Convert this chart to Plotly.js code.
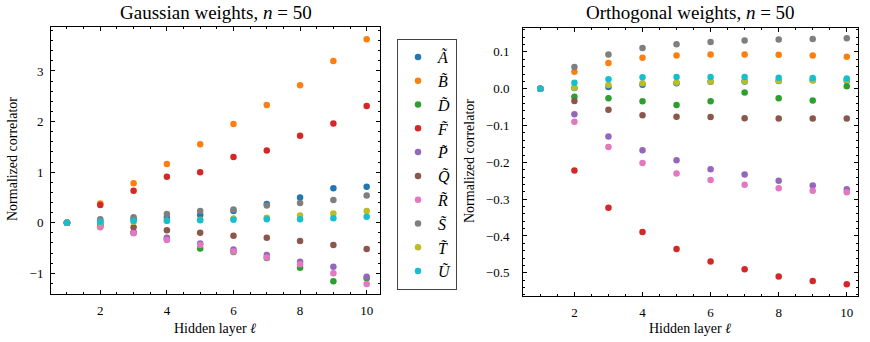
<!DOCTYPE html>
<html>
<head>
<meta charset="utf-8">
<script src="https://cdn.plot.ly/plotly-3.0.1.min.js"></script>
<style>body{margin:0;background:#fff}</style>
</head>
<body>
<div id="chart" style="width:870px;height:342px"></div>
<script>
var layers = [1, 2, 3, 4, 5, 6, 7, 8, 9, 10];

var names = ['<i>A&#771;</i>', '<i>B&#771;</i>', '<i>D&#771;</i>', '<i>F&#771;</i>', '<i>P&#771;</i>',
             '<i>Q&#771;</i>', '<i>R&#771;</i>', '<i>S&#771;</i>', '<i>T&#771;</i>', '<i>U&#771;</i>'];
var colors = ['#1f77b4', '#ff7f0e', '#2ca02c', '#d62728', '#9467bd',
              '#8c564b', '#e377c2', '#7f7f7f', '#bcbd22', '#17becf'];

// Gaussian weights
var gA = [0, 0.04, 0.07, 0.10, 0.15, 0.23, 0.37, 0.50, 0.68, 0.71];
var gB = [0, 0.38, 0.78, 1.16, 1.55, 1.95, 2.33, 2.72, 3.20, 3.63];
var gD = [0, -0.05, -0.20, -0.32, -0.51, -0.58, -0.70, -0.89, -1.16, -1.10];
var gF = [0, 0.35, 0.63, 0.91, 1.00, 1.30, 1.43, 1.72, 1.96, 2.31];
var gP = [0, -0.07, -0.19, -0.30, -0.41, -0.53, -0.64, -0.77, -0.87, -1.07];
var gQ = [0, -0.02, -0.09, -0.15, -0.20, -0.26, -0.30, -0.36, -0.44, -0.52];
var gR = [0, -0.09, -0.21, -0.34, -0.44, -0.57, -0.69, -0.82, -1.00, -1.21];
var gS = [0, 0.07, 0.11, 0.17, 0.23, 0.26, 0.34, 0.39, 0.45, 0.54];
var gT = [0, 0.00, 0.02, 0.04, 0.06, 0.085, 0.10, 0.14, 0.18, 0.23];
var gU = [0, 0.02, 0.04, 0.04, 0.05, 0.06, 0.07, 0.07, 0.09, 0.12];

// Orthogonal weights
var oA = [0, 0.002, 0.005, 0.011, 0.015, 0.019, 0.020, 0.021, 0.023, 0.022];
var oB = [0, 0.046, 0.070, 0.084, 0.090, 0.093, 0.093, 0.092, 0.090, 0.087];
var oD = [0, -0.022, -0.026, -0.034, -0.044, -0.034, -0.010, -0.026, -0.032, 0.007];
var oF = [0, -0.222, -0.323, -0.389, -0.435, -0.469, -0.490, -0.510, -0.522, -0.531];
var oP = [0, -0.069, -0.130, -0.167, -0.194, -0.219, -0.233, -0.250, -0.263, -0.273];
var oQ = [0, -0.033, -0.057, -0.072, -0.076, -0.077, -0.080, -0.081, -0.081, -0.081];
var oR = [0, -0.090, -0.158, -0.202, -0.230, -0.248, -0.261, -0.270, -0.277, -0.281];
var oS = [0, 0.059, 0.093, 0.111, 0.121, 0.127, 0.131, 0.134, 0.135, 0.137];
var oT = [0, 0.003, 0.010, 0.015, 0.017, 0.020, 0.021, 0.022, 0.023, 0.024];
var oU = [0, 0.016, 0.026, 0.031, 0.032, 0.032, 0.032, 0.030, 0.029, 0.028];

var gauss = [gA, gB, gD, gF, gP, gQ, gR, gS, gT, gU];
var ortho = [oA, oB, oD, oF, oP, oQ, oR, oS, oT, oU];

var data = [];
for (var i = 0; i < names.length; i++) {
    data.push({
        x: layers, y: gauss[i], name: names[i], type: 'scatter', mode: 'markers',
        marker: {color: colors[i], size: 6.5}, showlegend: true,
        xaxis: 'x', yaxis: 'y'
    });
}
for (var i = 0; i < names.length; i++) {
    data.push({
        x: layers, y: ortho[i], name: names[i], type: 'scatter', mode: 'markers',
        marker: {color: colors[i], size: 6.5}, showlegend: false,
        xaxis: 'x2', yaxis: 'y2'
    });
}

var font = '"Liberation Serif", "DejaVu Serif", serif';
function axis(extra) {
    var a = {
        showline: true, mirror: 'allticks', linecolor: '#000', linewidth: 1,
        ticks: 'inside', ticklen: 4, tickcolor: '#000', tickwidth: 1,
        showgrid: false, zeroline: false,
        tickfont: {family: font, size: 13, color: '#000'}
    };
    for (var k in extra) a[k] = extra[k];
    return a;
}

var H = 342, W = 870;
function label(text, px, py, angle) {
    return {text: text, x: px / W, y: 1 - py / H, xref: 'paper', yref: 'paper',
            xanchor: 'center', yanchor: 'middle', textangle: angle, showarrow: false,
            font: {family: font, size: 14, color: '#000'}};
}
function title(text, px) {
    return {text: text, x: px / W, y: 1 - 12 / H, xref: 'paper', yref: 'paper',
            xanchor: 'center', yanchor: 'middle', showarrow: false,
            font: {family: font, size: 19, color: '#000'}};
}

var layout = {
    width: W, height: H,
    margin: {l: 0, r: 0, t: 0, b: 0},
    paper_bgcolor: '#fff', plot_bgcolor: '#fff',
    font: {family: font, color: '#000'},
    showlegend: true,
    legend: {
        x: 397 / W, y: 1 - 39 / H, xanchor: 'left', yanchor: 'top',
        bordercolor: '#444', borderwidth: 1, bgcolor: '#fff',
        font: {family: font, size: 16, color: '#000'},
        traceorder: 'normal'
    },
    xaxis: axis({
        domain: [51 / W, 380 / W], range: [0.52, 10.4], dtick: 2, tick0: 0,
        minor: {ticks: 'inside', ticklen: 2, tickcolor: '#000', dtick: 0.5, showgrid: false},
        ticklabelstandoff: 4, anchor: 'y'
    }),
    yaxis: axis({
        domain: [1 - 294 / H, 1 - 27 / H], range: [-1.41, 3.87], dtick: 1,
        minor: {ticks: 'inside', ticklen: 2, tickcolor: '#000', dtick: 0.2, showgrid: false},
        ticklabelstandoff: 4, anchor: 'x'
    }),
    xaxis2: axis({
        domain: [523 / W, 858 / W], range: [0.49, 10.33], dtick: 2, tick0: 0,
        minor: {ticks: 'inside', ticklen: 2, tickcolor: '#000', dtick: 0.5, showgrid: false},
        ticklabelstandoff: 4, anchor: 'y2'
    }),
    yaxis2: axis({
        domain: [1 - 296 / H, 1 - 28 / H], range: [-0.563, 0.165], dtick: 0.1, tickformat: '.1f',
        minor: {ticks: 'inside', ticklen: 2, tickcolor: '#000', dtick: 0.02, showgrid: false},
        ticklabelstandoff: 10, anchor: 'x2'
    }),
    annotations: [
        title('Gaussian weights, <i>n</i> = 50', 216),
        title('Orthogonal weights, <i>n</i> = 50', 690),
        label('Hidden layer <i>ℓ</i>', 215, 328, 0),
        label('Hidden layer <i>ℓ</i>', 690, 328, 0),
        label('Normalized correlator', 12, 159, -90),
        label('Normalized correlator', 469, 161, -90)
    ]
};

Plotly.newPlot('chart', data, layout, {displayModeBar: false});
</script>
</body>
</html>
